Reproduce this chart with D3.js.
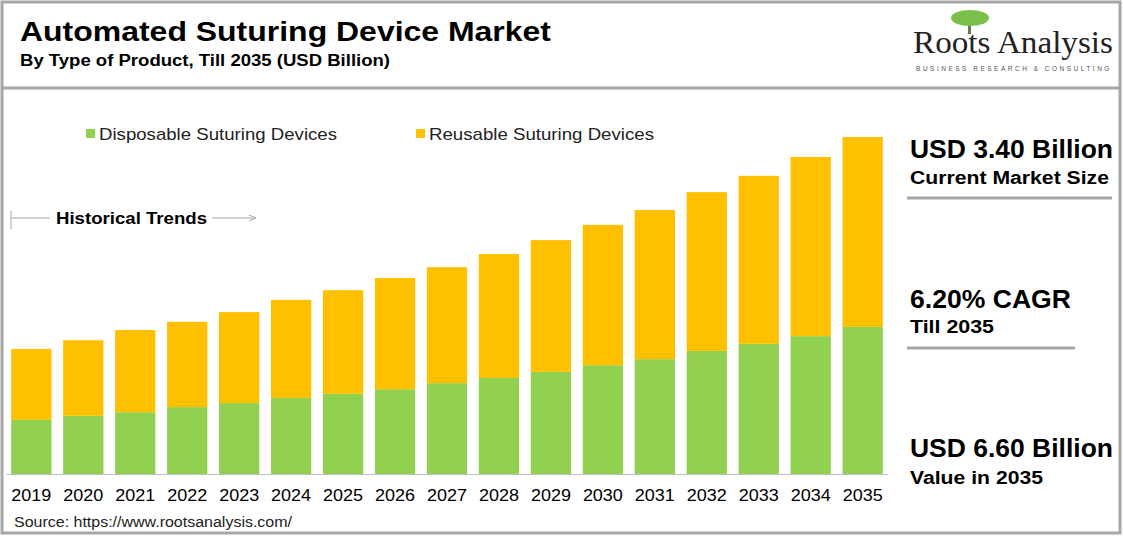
<!DOCTYPE html><html><head><meta charset="utf-8">
<script src="https://cdn.jsdelivr.net/npm/d3@7"></script>
<style>body{margin:0;background:#fff}svg{display:block;font-family:Arial,"Liberation Sans",sans-serif}</style></head><body>
<svg id="c" width="1123" height="536"></svg>
<script>
const years=["2019","2020","2021","2022","2023","2024","2025","2026","2027","2028","2029","2030","2031","2032","2033","2034","2035"];
const disposable=[1.06,1.14,1.21,1.31,1.39,1.49,1.57,1.66,1.78,1.88,2.00,2.13,2.25,2.41,2.55,2.70,2.88];
const totals=[2.45,2.62,2.82,2.98,3.17,3.41,3.60,3.84,4.05,4.31,4.58,4.88,5.17,5.52,5.84,6.21,6.60];
const reusable=totals.map((t,i)=>+(t-disposable[i]).toFixed(2));
const seriesNames=["Disposable Suturing Devices","Reusable Suturing Devices"];
const colors=["#92d050","#ffc000"];

const svg=d3.select("#c");
const G="#a6a6a6";
function T(x,y,size,txt,len,bold){const t=svg.append("text").attr("x",x).attr("y",y).attr("font-size",size).text(txt);
 if(bold)t.attr("font-weight","bold"); if(len)t.attr("textLength",len).attr("lengthAdjust","spacingAndGlyphs"); return t;}
svg.append("rect").attr("x",2).attr("y",2).attr("width",1118).attr("height",531).attr("fill","none").attr("stroke",G).attr("stroke-width",3);
svg.append("line").attr("x1",2).attr("x2",1120).attr("y1",88).attr("y2",88).attr("stroke",G).attr("stroke-width",3);
T(20,41,28,"Automated Suturing Device Market",531,true);
T(20,66,16,"By Type of Product, Till 2035 (USD Billion)",370,true);
// logo
const lg=svg.append("g");
lg.append("rect").attr("x",968).attr("y",18).attr("width",3).attr("height",16).attr("fill","#6b7d4a");
lg.append("ellipse").attr("cx",970).attr("cy",18).attr("rx",19).attr("ry",8).attr("fill","#7cc04b");
lg.append("text").attr("x",913).attr("y",53).attr("textLength",200).attr("lengthAdjust","spacingAndGlyphs").attr("font-family","'Liberation Serif','DejaVu Serif',serif").attr("font-size",31).attr("fill","#222").text("Roots Analysis");
lg.append("text").attr("x",1014).attr("y",71).attr("text-anchor","middle").attr("font-size",6.5).attr("letter-spacing",2.5).attr("fill","#555").text("BUSINESS RESEARCH & CONSULTING");

// chart
const x=d3.scaleBand().domain(years).range([6,888]).paddingInner(0.225).paddingOuter(0.1);
const y=d3.scaleLinear().domain([0,6.6]).range([474,137]);
const data=years.map((yr,i)=>({year:yr,d:disposable[i],r:reusable[i]}));
const stack=d3.stack().keys(["d","r"])(data);
svg.append("g").selectAll("g").data(stack).join("g").attr("fill",(s,i)=>colors[i])
 .selectAll("rect").data(s=>s).join("rect")
 .attr("x",d=>x(d.data.year)).attr("width",x.bandwidth())
 .attr("y",d=>y(d[1])).attr("height",d=>y(d[0])-y(d[1]));
const ax=svg.append("g").attr("transform","translate(0,474)").call(d3.axisBottom(x).tickSize(0).tickPadding(15));
ax.select(".domain").attr("stroke","#bfbfbf");
ax.selectAll("text").attr("font-size",17).attr("fill","#000").attr("font-family","Arial,'Liberation Sans',sans-serif").attr("textLength",40).attr("lengthAdjust","spacingAndGlyphs");

// legend
const lx=[86,416],ll=[238,225];
seriesNames.forEach((n,i)=>{
 svg.append("rect").attr("x",lx[i]).attr("y",129).attr("width",9).attr("height",9).attr("fill",colors[i]);
 T(lx[i]+13,140,17,n,ll[i]).attr("fill","#222");
});
// historical trends
svg.append("line").attr("x1",11).attr("x2",11).attr("y1",211).attr("y2",229).attr("stroke",G);
svg.append("line").attr("x1",11).attr("x2",50).attr("y1",218).attr("y2",218).attr("stroke",G);
T(56,224,16.5,"Historical Trends",151,true);
svg.append("line").attr("x1",212).attr("x2",255).attr("y1",218).attr("y2",218).attr("stroke",G);
svg.append("path").attr("d","M249,215 L256,218 L249,221").attr("fill","none").attr("stroke",G);

T(14,527,14,"Source: https://www.rootsanalysis.com/",278).attr("fill","#222");

// right panel
const rp=[["USD 3.40 Billion","Current Market Size",158,184,198,203,199],["6.20% CAGR","Till 2035",308,333,348,161,84],["USD 6.60 Billion","Value in 2035",457,484,null,203,133]];
rp.forEach(([a,b,y1,y2,ly,l1,l2])=>{
 T(910,y1,25.5,a,l1,true);
 T(910,y2,18,b,l2,true);
 if(ly) svg.append("line").attr("x1",907).attr("x2",ly===198?1112:1075).attr("y1",ly).attr("y2",ly).attr("stroke",G).attr("stroke-width",3);
});
</script></body></html>
